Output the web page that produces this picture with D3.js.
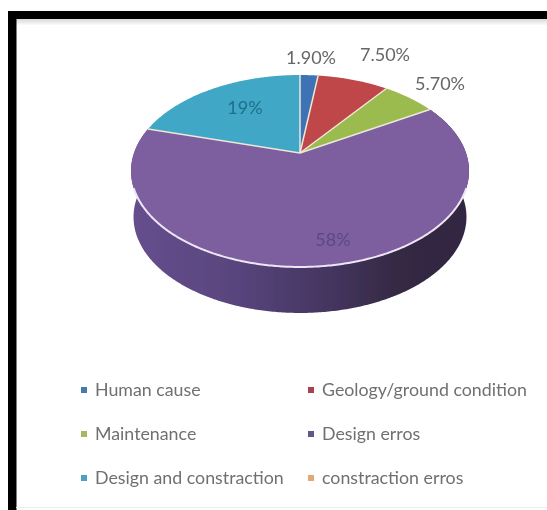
<!DOCTYPE html>
<html><head><meta charset="utf-8">
<script src="https://cdn.jsdelivr.net/npm/d3@7/dist/d3.min.js"></script>
<style>html,body{margin:0;padding:0;background:#fff;overflow:hidden}svg{display:block}text{font-family:Lato,"Open Sans",sans-serif}</style>
</head><body><svg id="c" width="547" height="510"></svg>
<script>
const categories=["Human cause","Geology/ground condition","Maintenance","Design erros","Design and constraction","constraction erros"];
const values=[1.9,7.5,5.7,58,19,0];
const valueLabels=["1.90%","7.50%","5.70%","58%","19%",""];
const colors=["#3d72b4","#c0474a","#9bbb4f","#7d5ea0","#3fa7c6","#e8a25f"];
const legendColors=["#4a7aa8","#a8434f","#a9b760","#5d5a86","#4f9fc0","#e3a878"];
const labelColors=["#666","#666","#666","#5c4a82","#1f6f8a",""];
const labelPos=[[311,58],[385,55],[440,84],[333,240],[245,108]];

const svg=d3.select("#c");
const defs=svg.append("defs");
defs.append("filter").attr("id","soft").append("feGaussianBlur").attr("stdDeviation",0.7);
const wallGrad=defs.append("linearGradient").attr("id","wall").attr("gradientUnits","userSpaceOnUse")
  .attr("x1",131).attr("x2",469).attr("y1",0).attr("y2",0);
[[0,"#664f8e"],[0.3,"#59457e"],[0.55,"#473764"],[0.8,"#342942"],[1,"#302642"]].forEach(s=>
  wallGrad.append("stop").attr("offset",s[0]).attr("stop-color",s[1]));
const bandGrad=defs.append("linearGradient").attr("id","band").attr("x1",0).attr("x2",0).attr("y1",0).attr("y2",1);
bandGrad.append("stop").attr("offset",0).attr("stop-color","#d9d9d9");
bandGrad.append("stop").attr("offset",1).attr("stop-color","#fbfbfb");

// frame
svg.append("rect").attr("x",16).attr("y",19).attr("width",531).attr("height",6).attr("fill","url(#band)");
svg.append("rect").attr("x",8).attr("y",11).attr("width",539).attr("height",8).attr("fill","#000");
svg.append("rect").attr("x",8).attr("y",11).attr("width",8.5).attr("height",499).attr("fill","#000");
svg.append("rect").attr("x",16).attr("y",507).attr("width",531).attr("height",1).attr("fill","#eee");

// perspective projection of the pie disc
const cx=300,apexY=153,k=-0.1875,a=92.6,b=166,depth=46;
const project=t=>{const u=Math.sin(t),v=-Math.cos(t),d=1+k*v;return [cx+b*u/d,apexY+a*v/d];};
const pie=d3.pie().sort(null).value(d=>d)(values);
const line=d3.line();
const arcPts=(s,e)=>{const n=Math.max(2,Math.ceil((e-s)/0.01));return d3.range(n+1).map(i=>project(s+(e-s)*i/n));};
const visible=pie.filter(d=>d.value>0);

const g=svg.append("g").attr("filter","url(#soft)");
// side wall of the front slice
const frontSlice=pie[3];
const upperEdge=arcPts(frontSlice.startAngle,frontSlice.endAngle);
const lowerEdge=upperEdge.map(p=>[cx+(p[0]-cx)*0.985,p[1]+depth]).reverse();
g.append("path").attr("d",line(upperEdge.concat(lowerEdge))+"Z").attr("fill","url(#wall)");
// top faces
g.selectAll("path.s").data(visible).join("path").attr("class","s")
  .attr("d",d=>line([[cx,apexY],...arcPts(d.startAngle,d.endAngle)])+"Z")
  .attr("fill",d=>colors[d.index]);
// light separators between slices
g.selectAll("path.e").data(visible).join("path").attr("class","e")
  .attr("d",d=>line([[cx,apexY],project(d.endAngle)]))
  .attr("stroke","#eee8d8").attr("stroke-width",1.5).attr("fill","none");
// bright rim on the front edge
g.append("path").attr("d",line(arcPts(Math.PI*0.615,Math.PI*1.385))).attr("fill","none")
  .attr("stroke","#efe6f4").attr("stroke-width",2);

// labels
const lg=svg.append("g").attr("filter","url(#soft)");
lg.selectAll("text.v").data(valueLabels.slice(0,5)).join("text").attr("class","v")
  .attr("x",(d,i)=>labelPos[i][0]).attr("y",(d,i)=>labelPos[i][1]).attr("dy","0.35em")
  .attr("text-anchor","middle").attr("font-size",18)
  .attr("fill",(d,i)=>labelColors[i]).text(d=>d);

// legend
const colX=[84,311],rowY=[390,434,478];
const item=lg.selectAll("g.l").data(categories).join("g").attr("class","l")
  .attr("transform",(d,i)=>`translate(${colX[i%2]},${rowY[Math.floor(i/2)]})`);
item.append("rect").attr("x",-3).attr("y",-3).attr("width",6).attr("height",6).attr("fill",(d,i)=>legendColors[i]);
item.append("text").attr("x",11).attr("dy","0.33em").attr("font-size",17.8).attr("fill","#707070").text(d=>d);
</script></body></html>
